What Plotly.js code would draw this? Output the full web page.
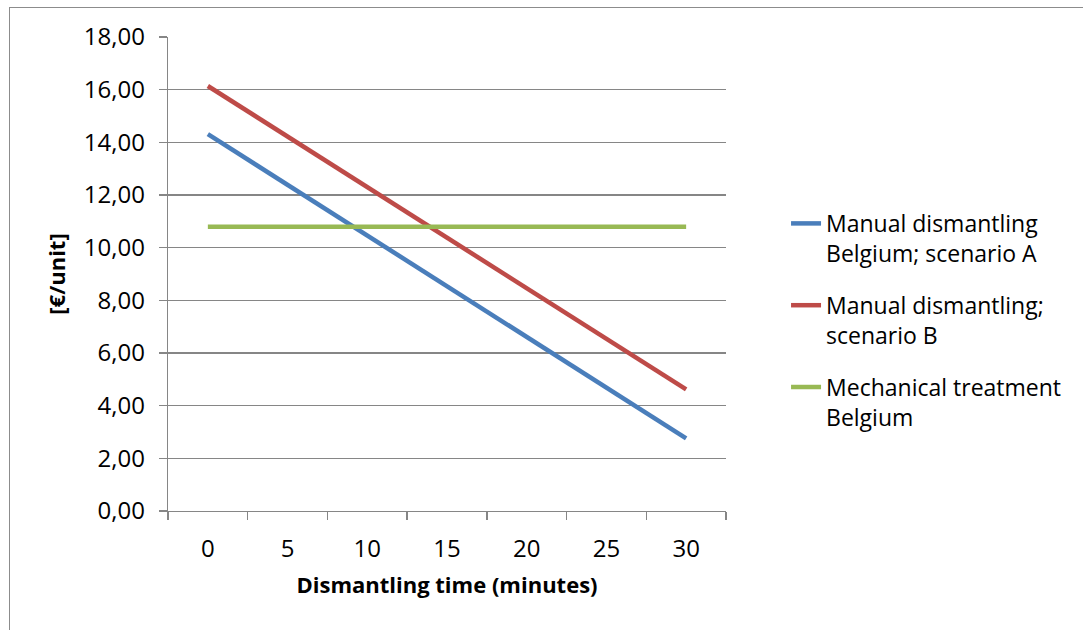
<!DOCTYPE html>
<html>
<head>
<meta charset="utf-8">
<script src="https://cdn.plot.ly/plotly-3.0.1.min.js"></script>
<style>
html,body{margin:0;padding:0;background:#fff;}
#wrap{position:relative;width:1083px;height:630px;overflow:hidden;}
#chart{position:absolute;left:0;top:0;width:1083px;height:630px;}
#frame{position:absolute;left:9px;top:7px;width:2000px;height:2000px;border-top:1.5px solid #8c8c8c;border-left:1.5px solid #8c8c8c;pointer-events:none;}
</style>
</head>
<body>
<div id="wrap"><div id="chart"></div><div id="frame"></div></div>
<script>
const categories = ['0', '5', '10', '15', '20', '25', '30'];
const seriesNames = ['Manual dismantling<br>Belgium; scenario A', 'Manual dismantling;<br>scenario B', 'Mechanical treatment<br>Belgium'];
const manualA = [14.31, 12.38, 10.46, 8.53, 6.61, 4.68, 2.76];
const manualB = [16.14, 14.22, 12.30, 10.38, 8.46, 6.54, 4.62];
const mechanical = [10.79, 10.79, 10.79, 10.79, 10.79, 10.79, 10.79];
const yTickVals = [0, 2, 4, 6, 8, 10, 12, 14, 16, 18];
const xTitle = 'Dismantling time (minutes)';
const yTitle = '[€/unit]';

const colors = ['#4A7EBB', '#BE4B48', '#98B954'];
const allSeries = [manualA, manualB, mechanical];
const traces = allSeries.map((vals, i) => ({
  type: 'scatter', mode: 'lines', x: categories, y: vals, name: seriesNames[i],
  legendgroup: 'g' + i,
  line: {color: colors[i], width: 4.5}
}));

const font = {family: '"Open Sans", sans-serif', size: 23, color: '#000'};
const tickFont = {family: '"Open Sans", sans-serif', size: 24, color: '#000'};
const layout = {
  width: 1083, height: 630,
  margin: {l: 168, r: 357, t: 37, b: 119},
  paper_bgcolor: '#fff', plot_bgcolor: '#fff',
  font: font,
  separators: ', ',
  showlegend: true,
  legend: {
    x: 1.1076, xanchor: 'left', y: 0.652, yanchor: 'top',
    font: font, valign: 'top', tracegroupgap: 19,
    bgcolor: 'rgba(0,0,0,0)'
  },
  xaxis: {
    type: 'category', categoryorder: 'array', categoryarray: categories,
    range: [-0.5, 6.5], tickson: 'boundaries', ticks: 'outside', ticklen: 8,
    tickcolor: '#868686', tickwidth: 1.3,
    showline: true, linecolor: '#868686', linewidth: 1.3,
    showgrid: false, zeroline: false,
    ticklabelstandoff: 16,
    tickfont: tickFont,
    title: {text: '<b>' + xTitle + '</b>', font: {family: '"Open Sans", sans-serif', size: 22, color: '#000'}, standoff: 14}
  },
  yaxis: {
    range: [0, 18], tickvals: yTickVals, tickformat: '.2f',
    ticks: 'outside', ticklen: 8, tickcolor: '#868686', tickwidth: 1.3,
    showline: true, linecolor: '#868686', linewidth: 1.3,
    showgrid: true, gridcolor: '#868686', gridwidth: 1.3,
    zeroline: false,
    ticklabelstandoff: 9,
    tickfont: tickFont,
    title: {text: '<b>' + yTitle + '</b>', font: {family: '"Open Sans", sans-serif', size: 22, color: '#000'}, standoff: 12}
  }
};

Plotly.newPlot('chart', traces, layout, {displayModeBar: false, staticPlot: true});
</script>
</body>
</html>
